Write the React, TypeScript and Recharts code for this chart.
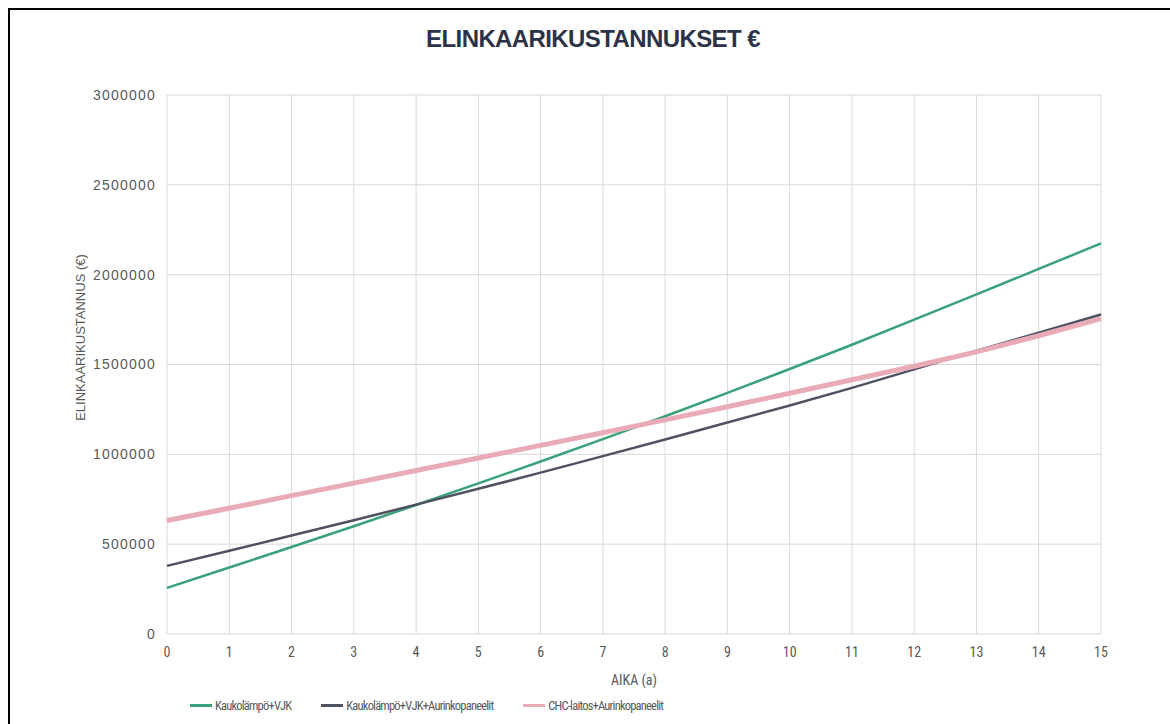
import React from 'react';
import { LineChart, Line, XAxis, YAxis, CartesianGrid, Legend } from 'recharts';

const years = [0, 1, 2, 3, 4, 5, 6, 7, 8, 9, 10, 11, 12, 13, 14, 15];
const kaukoVJK = [257000, 370000, 484000, 600000, 718000, 838000, 960000, 1085000, 1212000, 1342000, 1475000, 1610000, 1750000, 1890000, 2032000, 2174000];
const kaukoVJKAurinko = [379000, 463000, 548000, 633000, 720000, 808000, 898000, 990000, 1083000, 1177000, 1272000, 1370000, 1473000, 1577000, 1677000, 1778000];
const chcAurinko = [632000, 700000, 770000, 840000, 910000, 980000, 1050000, 1120000, 1192000, 1265000, 1340000, 1415000, 1490000, 1570000, 1660000, 1755000];
const yTicks = [0, 500000, 1000000, 1500000, 2000000, 2500000, 3000000];
const seriesNames = ['Kaukolämpö+VJK', 'Kaukolämpö+VJK+Aurinkopaneelit', 'CHC-laitos+Aurinkopaneelit'];
const title = 'ELINKAARIKUSTANNUKSET €';
const xTitle = 'AIKA (a)';
const yTitle = 'ELINKAARIKUSTANNUS (€)';

const data = years.map((y, i) => ({
  year: y,
  a: kaukoVJK[i],
  b: kaukoVJKAurinko[i],
  c: chcAurinko[i],
}));

const narrow = "'Liberation Sans Narrow', 'Arial Narrow', 'Roboto Condensed', 'Liberation Sans', Arial, sans-serif";
const sans = "'Liberation Sans', Arial, sans-serif";

const LegendContent = (props: any) => {
  const payload = [...(props.payload || [])].sort(
    (p: any, q: any) => seriesNames.indexOf(p.value) - seriesNames.indexOf(q.value)
  );
  return (
    <div style={{ display: 'flex', flexDirection: 'row', alignItems: 'center', fontFamily: narrow, fontSize: 12.5, letterSpacing: -0.8, color: '#595959', whiteSpace: 'nowrap' }}>
      {payload.map((p: any, i: number) => (
        <div key={i} style={{ display: 'flex', alignItems: 'center', marginRight: 30 }}>
          <div style={{ width: 22, height: 2.5, background: p.color, marginRight: 3 }} />
          <span>{p.value}</span>
        </div>
      ))}
    </div>
  );
};

const YLabel = (props: any) => {
  const vb = props.viewBox || {};
  const cx = vb.x + 70;
  const cy = vb.y + vb.height / 2 - 27;
  return (
    <text x={cx} y={cy} transform={`rotate(-90, ${cx}, ${cy})`} textAnchor="middle" dominantBaseline="central" fontFamily={sans} fontSize={13} fill="#595959">
      {yTitle}
    </text>
  );
};

export default function App() {
  return (
    <div style={{ position: 'absolute', top: 8, left: 8, width: 1162, height: 716, borderTop: '2px solid #000', borderLeft: '2px solid #000', boxSizing: 'border-box', background: '#fff', overflow: 'hidden' }}>
      <div style={{ position: 'absolute', top: 16.5, left: 0, width: 1166, textAlign: 'center', fontFamily: sans, fontWeight: 'bold', fontSize: 24, lineHeight: '24px', letterSpacing: -0.6, color: '#2c3349' }}>
        {title}
      </div>
      <LineChart width={1160} height={714} data={data} margin={{ top: 85, right: 69, bottom: 0, left: 0 }}>
        <CartesianGrid stroke="#d9d9d9" strokeWidth={1} />
        <XAxis
          dataKey="year"
          type="number"
          domain={[0, 15]}
          ticks={years}
          interval={0}
          height={90}
          tickLine={false}
          axisLine={false}
          tickSize={0}
          tickMargin={13}
          tick={{ fontFamily: narrow, fontSize: 14, fill: '#595959' }}
          label={{ value: xTitle, position: 'insideBottom', offset: 39, fontFamily: narrow, fontSize: 14, fill: '#595959' }}
        />
        <YAxis
          type="number"
          domain={[0, 3000000]}
          ticks={yTicks}
          interval={0}
          width={157}
          tickLine={false}
          axisLine={false}
          tickSize={0}
          tickMargin={11}
          tick={{ fontFamily: sans, fontSize: 14, fill: '#595959', letterSpacing: 1.2 }}
          label={<YLabel />}
        />
        <Legend
          layout="horizontal"
          verticalAlign="middle"
          align="center"
          content={<LegendContent />}
          wrapperStyle={{ top: 688, left: 180, width: 'auto', height: 20 }}
        />
        <Line type="linear" dataKey="a" name={seriesNames[0]} stroke="#3aa27b" strokeWidth={2.5} dot={false} isAnimationActive={false} />
        <Line type="linear" dataKey="b" name={seriesNames[1]} stroke="#4f5263" strokeWidth={2.5} dot={false} isAnimationActive={false} />
        <Line type="linear" dataKey="c" name={seriesNames[2]} stroke="#e9abb8" strokeWidth={5} dot={false} isAnimationActive={false} />
      </LineChart>
    </div>
  );
}
